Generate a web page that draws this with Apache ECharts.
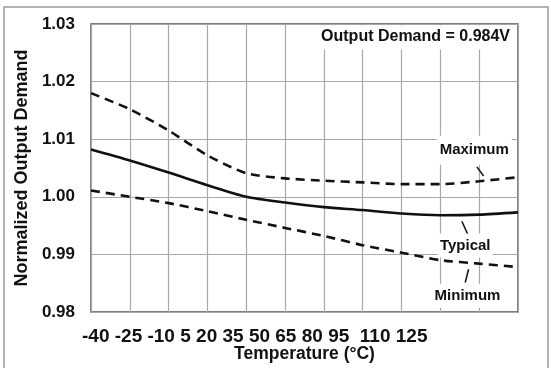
<!DOCTYPE html>
<html>
<head>
<meta charset="utf-8">
<script src="https://cdn.jsdelivr.net/npm/echarts@6/dist/echarts.min.js"></script>
<style>
  html, body { margin: 0; padding: 0; background: #fff; }
  #chart { width: 551px; height: 368px; }
</style>
</head>
<body>
<div id="chart"></div>
<script>
const temps = [-40, -25, -10, 5, 20, 35, 50, 65, 80, 95, 110, 125]
const tickLabels = ['-40', '-25', '-10', '5', '20', '35', '50', '65', '80', '95', ' 110', '125']
const typical = [1.0082, 1.0063, 1.0042, 1.0020, 1.0000, 0.9990, 0.9982, 0.9977, 0.9971, 0.9968, 0.9969, 0.9973]
const maximum = [1.0180, 1.0152, 1.0115, 1.0072, 1.0041, 1.0032, 1.0028, 1.0025, 1.0022, 1.0022, 1.0027, 1.0034]
const minimum = [1.0011, 1.0000, 0.9989, 0.9975, 0.9960, 0.9946, 0.9932, 0.9916, 0.9903, 0.9890, 0.9884, 0.9878]

const font = 'Liberation Sans, Arial, sans-serif'

function pairs (ys) {
  return temps.map((t, i) => [t, ys[i]])
}

// annotation label placed in data coordinates
function noteLabel (text, t, v, padding) {
  return {
    coord: [t, v],
    symbol: 'circle',
    symbolSize: 1,
    itemStyle: { color: 'rgba(0,0,0,0)' },
    label: {
      show: true,
      formatter: text,
      position: 'inside',
      fontFamily: font,
      fontWeight: 'bold',
      fontSize: 15,
      color: '#111',
      backgroundColor: '#fff',
      padding: padding
    }
  }
}

function leader (t1, v1, t2, v2) {
  return [{ coord: [t1, v1] }, { coord: [t2, v2] }]
}

function leaderLine (data) {
  return {
    symbol: 'none',
    silent: true,
    label: { show: false },
    lineStyle: { color: '#111', width: 1.5, type: 'solid' },
    data: data
  }
}

const myChart = echarts.init(document.getElementById('chart'))

myChart.setOption({
  animation: false,
  backgroundColor: '#fff',
  title: {
    text: 'Output Demand = 0.984V',
    right: 37,
    top: 25.5,
    padding: [3, 4, 5, 8],
    backgroundColor: '#fff',
    textStyle: { fontFamily: font, fontWeight: 'bold', fontSize: 16, color: '#111' }
  },
  grid: {
    left: 91,
    right: 33,
    top: 24,
    bottom: 53,
    show: true,
    borderColor: '#555',
    borderWidth: 1.5
  },
  xAxis: {
    type: 'value',
    min: -40,
    max: 125,
    interval: 15,
    name: 'Temperature (°C)',
    nameLocation: 'middle',
    nameGap: 33,
    nameTextStyle: { fontFamily: font, fontWeight: 'bold', fontSize: 17.5, color: '#111' },
    axisLine: { show: false },
    axisTick: { show: false },
    axisLabel: { show: false },
    splitLine: { show: true, lineStyle: { color: '#a8a8a8', width: 1.2 } }
  },
  yAxis: {
    type: 'value',
    min: 0.98,
    max: 1.03,
    interval: 0.01,
    name: 'Normalized Output Demand',
    nameLocation: 'middle',
    nameRotate: 90,
    nameGap: 56,
    nameTextStyle: { fontFamily: font, fontWeight: 'bold', fontSize: 18, color: '#111' },
    axisLine: { show: false },
    axisTick: { show: false },
    axisLabel: {
      margin: 16,
      fontFamily: font,
      fontWeight: 'bold',
      fontSize: 17,
      color: '#111',
      formatter: v => v.toFixed(2)
    },
    splitLine: { show: true, lineStyle: { color: '#a8a8a8', width: 1.2 } }
  },
  graphic: [
    {
      type: 'rect',
      shape: { x: 4, y: 7, width: 544, height: 372 },
      style: { fill: 'none', stroke: '#9a9a9a', lineWidth: 1.5 },
      silent: true
    },
    {
      type: 'text',
      x: 82,
      y: 337,
      style: {
        text: tickLabels.join(' '),
        font: 'bold 19px ' + font,
        fill: '#111',
        verticalAlign: 'middle'
      }
    }
  ],
  series: [
    {
      name: 'Maximum',
      type: 'line',
      data: pairs(maximum),
      smooth: 0.25,
      symbol: 'none',
      lineStyle: { color: '#111', width: 2.6, type: [9, 6] },
      markPoint: { data: [noteLabel('Maximum', 108.1, 1.0081, [9, 3, 5, 3])] },
      markLine: leaderLine([leader(109.1, 1.0052, 111.7, 1.0036)])
    },
    {
      name: 'Typical',
      type: 'line',
      data: pairs(typical),
      smooth: 0.25,
      symbol: 'none',
      lineStyle: { color: '#111', width: 2.6 },
      markPoint: { data: [noteLabel('Typical', 104.6, 0.99155, [4, 2, 5, 2])] },
      markLine: leaderLine([leader(103.3, 0.99575, 105.9, 0.99317)])
    },
    {
      name: 'Minimum',
      type: 'line',
      data: pairs(minimum),
      smooth: 0.25,
      symbol: 'none',
      lineStyle: { color: '#111', width: 2.6, type: [9, 6] },
      markPoint: { data: [noteLabel('Minimum', 105.5, 0.98284, [5, 3, 4, 3])] },
      markLine: leaderLine([leader(105.9, 0.98742, 104.6, 0.98513)])
    }
  ]
})
</script>
</body>
</html>
